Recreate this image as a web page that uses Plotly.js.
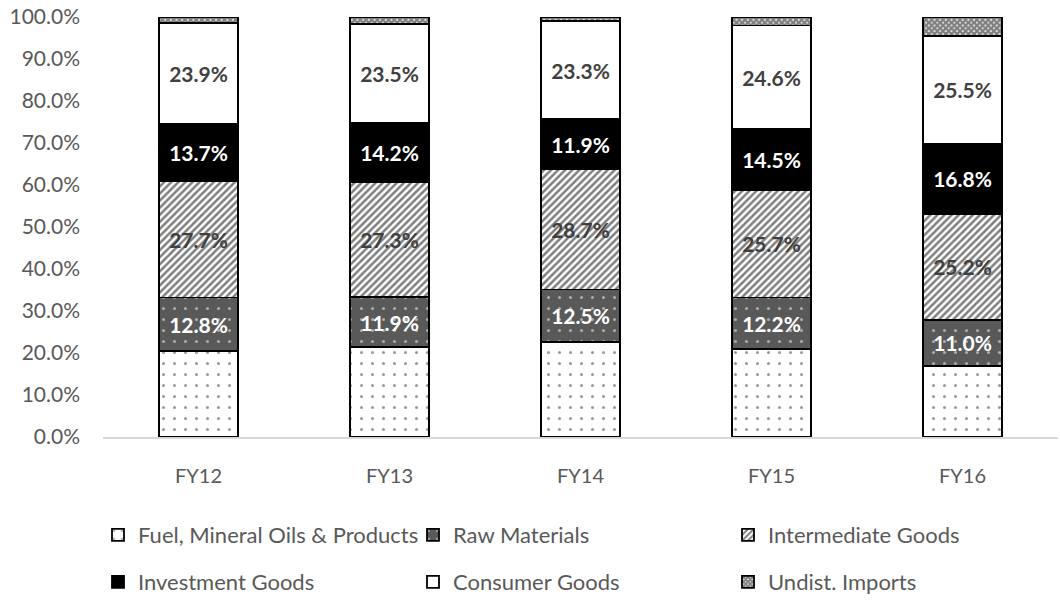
<!DOCTYPE html>
<html>
<head>
<meta charset="utf-8">
<script src="https://cdn.plot.ly/plotly-3.0.1.min.js"></script>
<style>
  html, body { margin: 0; padding: 0; background: #ffffff; }
  #chart { width: 1060px; height: 603px; }
</style>
</head>
<body>
<div id="chart"></div>
<script>
// Import composition by category, share of total (%)
const years = ["FY12", "FY13", "FY14", "FY15", "FY16"];
const fuel = [20.4, 21.4, 22.6, 21.0, 16.9];
const rawMaterials = [12.8, 11.9, 12.5, 12.2, 11.0];
const intermediate = [27.7, 27.3, 28.7, 25.7, 25.2];
const investment = [13.7, 14.2, 11.9, 14.5, 16.8];
const consumer = [23.9, 23.5, 23.3, 24.6, 25.5];
const undistributed = [1.5, 1.7, 1.0, 2.0, 4.6];

const FONT = "Lato, 'Open Sans', sans-serif";
const outline = { color: "#000000", width: 1.8 };
const labelFont = (color) => ({ family: FONT, size: 21, color: color, weight: "bold" });

function series(name, values, fill, pattern, legendId, label) {
  const t = {
    type: "bar",
    name: name,
    x: years,
    y: values,
    legend: legendId,
    marker: { color: fill, line: outline, pattern: pattern },
    hoverinfo: "x+y+name"
  };
  if (label) {
    t.texttemplate = "%{y:.1f}%";
    t.textposition = "inside";
    t.insidetextanchor = "middle";
    t.textangle = 0;
    t.constraintext = "none";
    t.textfont = labelFont(label);
  } else {
    t.textposition = "none";
  }
  return t;
}

const traces = [
  series("Fuel, Mineral Oils & Products", fuel, "#ffffff",
    { shape: ".", size: 11, solidity: 0.06, fgcolor: "#333333", bgcolor: "#ffffff", fillmode: "overlay" }, "legend", null),
  series("Raw Materials", rawMaterials, "#595959",
    { shape: ".", size: 11, solidity: 0.06, fgcolor: "#ffffff", bgcolor: "#595959", fillmode: "overlay" }, "legend2", "#ffffff"),
  series("Intermediate Goods", intermediate, "#ffffff",
    { shape: "/", size: 5, solidity: 0.5, fgcolor: "#000000", bgcolor: "#ffffff", fillmode: "overlay" }, "legend3", "#404040"),
  series("Investment Goods", investment, "#000000", { shape: "" }, "legend4", "#ffffff"),
  series("Consumer Goods", consumer, "#ffffff", { shape: "" }, "legend5", "#404040"),
  series("Undist. Imports", undistributed, "#ffffff",
    { shape: "x", size: 4, solidity: 0.85, fgcolor: "#000000", bgcolor: "#ffffff", fillmode: "overlay" }, "legend6", null)
];

// One single-entry legend per slot, laid out as a 3 x 2 grid under the plot
function legendAt(px, py) {
  return {
    xref: "container", yref: "container",
    x: px / 1060, y: 1 - py / 603,
    xanchor: "left", yanchor: "middle",
    orientation: "h",
    bgcolor: "rgba(0,0,0,0)",
    borderwidth: 0,
    font: { family: FONT, size: 22, color: "#595959" }
  };
}

const layout = {
  width: 1060,
  height: 603,
  paper_bgcolor: "#ffffff",
  plot_bgcolor: "#ffffff",
  margin: { l: 103, r: 2, t: 17, b: 166 },
  barmode: "stack",
  bargap: 0.59,
  showlegend: true,
  font: { family: FONT, color: "#595959" },
  xaxis: {
    type: "category",
    showline: true,
    linecolor: "#d9d9d9",
    linewidth: 1.5,
    ticks: "",
    ticklabelstandoff: 20,
    tickfont: { family: FONT, size: 20, color: "#595959" },
    fixedrange: true
  },
  yaxis: {
    range: [0, 100],
    dtick: 10,
    tick0: 0,
    tickformat: ".1f",
    ticksuffix: "%",
    showgrid: false,
    zeroline: false,
    showline: false,
    ticks: "",
    ticklabelstandoff: 22,
    tickfont: { family: FONT, size: 21, color: "#595959" },
    fixedrange: true
  },
  legend: legendAt(98, 535),
  legend2: legendAt(413, 535),
  legend3: legendAt(728, 535),
  legend4: legendAt(98, 582),
  legend5: legendAt(413, 582),
  legend6: legendAt(728, 582)
};

Plotly.newPlot("chart", traces, layout, { displayModeBar: false, staticPlot: true });
</script>
</body>
</html>
